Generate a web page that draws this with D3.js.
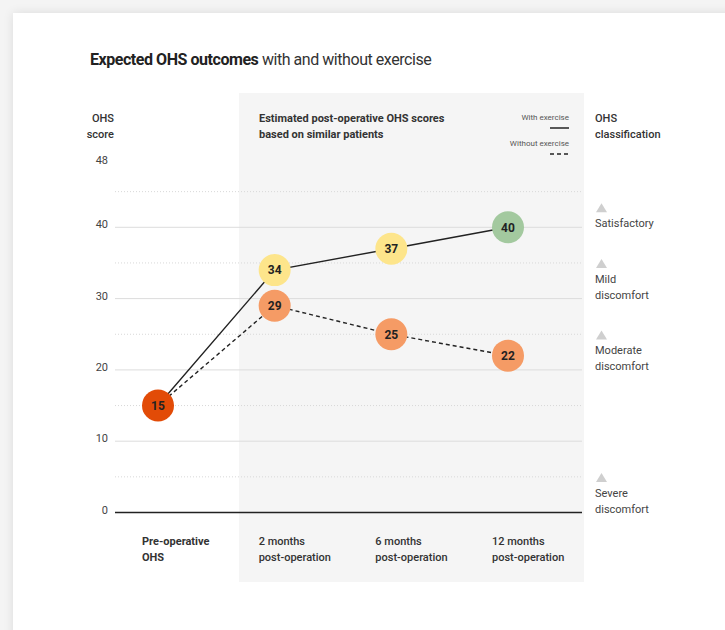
<!DOCTYPE html>
<html>
<head>
<meta charset="utf-8">
<script src="https://cdn.jsdelivr.net/npm/d3@7"></script>
<style>
  html, body { margin: 0; padding: 0; background: #f4f4f4; }
  body { width: 725px; height: 630px; overflow: hidden; position: relative; }
  #card { position: absolute; left: 13px; top: 13px; width: 760px; height: 660px; background: #fff;
          box-shadow: 0 0 10px rgba(0,0,0,0.10); }
  svg { position: absolute; left: 0; top: 0; font-family: Roboto, "Noto Sans", sans-serif; }
</style>
</head>
<body>
<div id="card"></div>
<svg id="chart" width="725" height="630"></svg>
<script>
// Time points and OHS scores
const stages = ["Pre-operative OHS", "2 months post-operation", "6 months post-operation", "12 months post-operation"];
const stageLines = [["Pre-operative", "OHS"], ["2 months", "post-operation"], ["6 months", "post-operation"], ["12 months", "post-operation"]];
const withExercise = [15, 34, 37, 40];
const withoutExercise = [15, 29, 25, 22];
const yTicks = [0, 10, 20, 30, 40];
const yMinorTicks = [5, 15, 25, 35, 45];
const yTop = 48;
// OHS classification bands (lower bound of each band)
const classes = [
  { lines: ["Satisfactory"], from: 40 },
  { lines: ["Mild", "discomfort"], from: 30 },
  { lines: ["Moderate", "discomfort"], from: 20 },
  { lines: ["Severe", "discomfort"], from: 0 }
];

const colorFor = v => v >= 40 ? "#a3c99f" : v >= 30 ? "#fde58b" : v >= 20 ? "#f59b65" : "#e24b07";

const svg = d3.select("#chart");

const x = d3.scalePoint().domain(stages).range([158, 508]);
const y = d3.scaleLinear().domain([0, 10]).range([512.5, 441.2]);
const gridX0 = 115, gridX1 = 582;

// Shaded area behind the post-operative estimates
svg.append("rect")
  .attr("x", 239).attr("y", 93).attr("width", 345).attr("height", 489)
  .attr("fill", "#f5f5f5");

// Title
const title = svg.append("text").attr("x", 90).attr("y", 65)
  .attr("font-size", 16).attr("letter-spacing", -0.45).attr("fill", "#222");
title.append("tspan").attr("font-weight", 700).text("Expected OHS outcomes");
title.append("tspan").attr("font-weight", 400).attr("fill", "#333").text(" with and without exercise");

// Gridlines
svg.append("g").selectAll("line").data(yMinorTicks).join("line")
  .attr("x1", gridX0).attr("x2", gridX1)
  .attr("y1", d => y(d)).attr("y2", d => y(d))
  .attr("stroke", "#d8d8d8").attr("stroke-width", 1).attr("stroke-dasharray", "1,2");
svg.append("g").selectAll("line").data(yTicks.filter(d => d > 0)).join("line")
  .attr("x1", gridX0).attr("x2", gridX1)
  .attr("y1", d => y(d)).attr("y2", d => y(d))
  .attr("stroke", "#dcdcdc").attr("stroke-width", 1);
svg.append("line")
  .attr("x1", gridX0).attr("x2", gridX1).attr("y1", y(0)).attr("y2", y(0))
  .attr("stroke", "#222").attr("stroke-width", 1.5);

// Y axis labels
const yAxis = d3.axisLeft(y).tickValues(yTicks).tickSize(0).tickPadding(0);
const gy = svg.append("g").attr("transform", "translate(108,-3)").call(yAxis);
gy.select(".domain").remove();
gy.selectAll("text").attr("font-size", 11).attr("fill", "#444").attr("font-family", "Roboto, sans-serif");
svg.append("text").attr("x", 108).attr("y", y(yTop) - 6).attr("text-anchor", "end")
  .attr("font-size", 11).attr("fill", "#444").text(yTop);

// Y axis title
svg.append("text").attr("x", 114).attr("y", 122).attr("text-anchor", "end")
  .attr("font-size", 11).attr("font-weight", 500).attr("fill", "#333")
  .selectAll("tspan").data(["OHS", "score"]).join("tspan")
  .attr("x", 114).attr("dy", (d, i) => i ? 16 : 0).text(d => d);

// Panel heading
svg.append("text").attr("x", 259).attr("y", 122)
  .attr("font-size", 11).attr("font-weight", 700).attr("fill", "#333")
  .selectAll("tspan").data(["Estimated post-operative OHS scores", "based on similar patients"]).join("tspan")
  .attr("x", 259).attr("dy", (d, i) => i ? 16 : 0).text(d => d);

// Legend
const legend = [
  { label: "With exercise", dash: null, y: 120 },
  { label: "Without exercise", dash: "4,3", y: 146 }
];
const lg = svg.append("g").selectAll("g").data(legend).join("g");
lg.append("text").attr("x", 569).attr("y", d => d.y).attr("text-anchor", "end")
  .attr("font-size", 8).attr("fill", "#555").text(d => d.label);
lg.append("line").attr("x1", 550).attr("x2", 569)
  .attr("y1", d => d.y + 8).attr("y2", d => d.y + 8)
  .attr("stroke", "#222").attr("stroke-width", 1.5)
  .attr("stroke-dasharray", d => d.dash);

// Classification heading
svg.append("text").attr("x", 595).attr("y", 122)
  .attr("font-size", 11).attr("font-weight", 500).attr("fill", "#333")
  .selectAll("tspan").data(["OHS", "classification"]).join("tspan")
  .attr("x", 595).attr("dy", (d, i) => i ? 16 : 0).text(d => d);

// Classification markers and labels
const cg = svg.append("g").selectAll("g").data(classes).join("g")
  .attr("transform", d => {
    const lastY = y(d.from);
    return `translate(595,${lastY - (d.lines.length - 1) * 15.5})`;
  });
cg.append("path").attr("d", "M1,-15 L12,-15 L6.5,-24 Z").attr("fill", "#cfcfcf");
cg.append("text").attr("font-size", 11).attr("fill", "#444")
  .selectAll("tspan").data(d => d.lines).join("tspan")
  .attr("x", 0).attr("dy", (t, i) => i ? 15.5 : 0).text(t => t);

// Lines
const line = d3.line().x((d, i) => x(stages[i])).y(d => y(d));
svg.append("path").datum(withoutExercise).attr("d", line)
  .attr("fill", "none").attr("stroke", "#222").attr("stroke-width", 1.4).attr("stroke-dasharray", "4,3");
svg.append("path").datum(withExercise).attr("d", line)
  .attr("fill", "none").attr("stroke", "#222").attr("stroke-width", 1.4);

// Points
const pts = [];
stages.forEach((s, i) => {
  pts.push({ stage: s, v: withoutExercise[i] });
  if (i > 0) pts.push({ stage: s, v: withExercise[i] });
});
const pg = svg.append("g").selectAll("g").data(pts).join("g")
  .attr("transform", d => `translate(${x(d.stage)},${y(d.v)})`);
pg.append("circle").attr("r", 16).attr("fill", d => colorFor(d.v));
pg.append("text").attr("text-anchor", "middle").attr("dy", "0.36em")
  .attr("font-size", 12).attr("font-weight", 700).attr("fill", "#222").text(d => d.v);

// Category labels
svg.append("g").selectAll("text").data(stages).join("text")
  .attr("x", d => x(d) - 16).attr("y", 545)
  .attr("font-size", 11).attr("font-weight", (d, i) => i ? 500 : 700).attr("fill", "#333")
  .selectAll("tspan").data((d, i) => stageLines[i].map(t => ({ t, x: x(d) - 16 }))).join("tspan")
  .attr("x", o => o.x).attr("dy", (o, j) => j ? 16 : 0).text(o => o.t);
</script>
</body>
</html>
